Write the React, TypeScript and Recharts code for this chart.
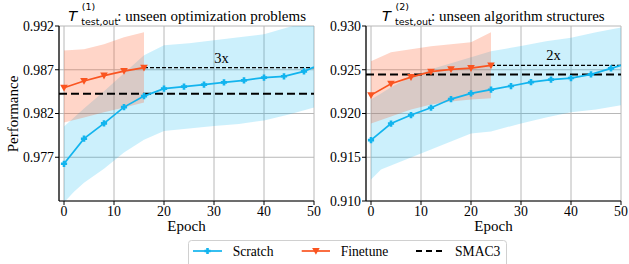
import React from 'react';
import { ComposedChart, Line, Area, XAxis, YAxis, CartesianGrid, ReferenceLine, ReferenceDot } from 'recharts';

// epochs where the curves are sampled
const scratchEpochs = [0, 4, 8, 12, 16, 20, 24, 28, 32, 36, 40, 44, 48, 50];

// left panel: unseen optimization problems
const scratchOpt = [0.97625, 0.97912, 0.98087, 0.98273, 0.98399, 0.98484, 0.98507, 0.9853, 0.98556, 0.98579, 0.9861, 0.98625, 0.98682, 0.98731];
const finetuneEpochsOpt = [0, 4, 8, 12, 16];
const finetuneOpt = [0.98495, 0.98571, 0.98633, 0.98685, 0.98724];
const smacOpt = 0.98427;
const scratchBandEpochsOpt = [0, 2, 4, 8, 12, 16, 20, 25, 30, 35, 40, 45, 50];
const scratchLoOpt = [0.97183, 0.97306, 0.97409, 0.9757, 0.97753, 0.97901, 0.97999, 0.9803, 0.98056, 0.98081, 0.98121, 0.9819, 0.9827];
const scratchHiOpt = [0.98052, 0.98155, 0.98258, 0.98453, 0.98659, 0.98865, 0.98979, 0.99002, 0.99036, 0.99071, 0.99105, 0.9919, 0.99254];
const finetuneLoOpt = [0.98098, 0.98155, 0.98213, 0.9827, 0.98327];
const finetuneHiOpt = [0.98919, 0.98933, 0.98991, 0.99071, 0.99128];

// right panel: unseen algorithm structures
const scratchAlg = [0.91696, 0.91885, 0.91982, 0.92066, 0.92165, 0.9223, 0.92272, 0.92314, 0.92359, 0.92387, 0.92405, 0.92447, 0.92516, 0.9255];
const finetuneEpochsAlg = [0, 4, 8, 12, 16, 20, 24];
const finetuneAlg = [0.9221, 0.92341, 0.92416, 0.92478, 0.92505, 0.92519, 0.9255];
const smacAlg = 0.92447;
const scratchBandEpochsAlg = [0, 2, 4, 8, 12, 16, 20, 24, 30, 35, 40, 45, 50];
const scratchLoAlg = [0.91246, 0.9136, 0.91406, 0.91498, 0.91589, 0.91681, 0.91772, 0.91795, 0.91887, 0.91955, 0.92013, 0.92047, 0.92093];
const scratchHiAlg = [0.92161, 0.9223, 0.92299, 0.92424, 0.92505, 0.92573, 0.92642, 0.92711, 0.92771, 0.92825, 0.92867, 0.92928, 0.92982];
const finetuneLoAlg = [0.91887, 0.91967, 0.92047, 0.92104, 0.92138, 0.92161, 0.92173];
const finetuneHiAlg = [0.92596, 0.92699, 0.92733, 0.92768, 0.92791, 0.92813, 0.92928];

const xTicks = [0, 10, 20, 30, 40, 50];
const yTicksOpt = [0.977, 0.982, 0.987, 0.992];
const yTicksAlg = [0.91, 0.915, 0.92, 0.925, 0.93];

const BLUE = '#12b4ee';
const RED = '#fa5420';
const SERIF = "'Liberation Serif', 'Times New Roman', serif";
const MATH = "'DejaVu Sans', sans-serif";

function buildRows(
  sEp: number[], s: number[], fEp: number[], f: number[],
  bEp: number[], bLo: number[], bHi: number[], fLo: number[], fHi: number[]
) {
  const map = new Map<number, any>();
  const row = (e: number) => {
    if (!map.has(e)) map.set(e, { epoch: e });
    return map.get(e);
  };
  sEp.forEach((e, i) => { row(e).scratch = s[i]; });
  fEp.forEach((e, i) => { row(e).finetune = f[i]; row(e).fBand = [fLo[i], fHi[i]]; });
  bEp.forEach((e, i) => { row(e).sBand = [bLo[i], bHi[i]]; });
  return Array.from(map.values()).sort((a, b) => a.epoch - b.epoch);
}

const optRows = buildRows(scratchEpochs, scratchOpt, finetuneEpochsOpt, finetuneOpt, scratchBandEpochsOpt, scratchLoOpt, scratchHiOpt, finetuneLoOpt, finetuneHiOpt);
const algRows = buildRows(scratchEpochs, scratchAlg, finetuneEpochsAlg, finetuneAlg, scratchBandEpochsAlg, scratchLoAlg, scratchHiAlg, finetuneLoAlg, finetuneHiAlg);

const PlusDot = (props: any) => {
  const { cx, cy, payload, index } = props;
  if (cx == null || cy == null || payload?.scratch == null || payload.epoch % 4 !== 0) return <g key={index} />;
  const a = 3.1, b = 1.3;
  const d = `M${cx - b},${cy - a}H${cx + b}V${cy - b}H${cx + a}V${cy + b}H${cx + b}V${cy + a}H${cx - b}V${cy + b}H${cx - a}V${cy - b}H${cx - b}Z`;
  return <path key={index} d={d} fill={BLUE} />;
};

const TriDot = (props: any) => {
  const { cx, cy, payload, index } = props;
  if (cx == null || cy == null || payload?.finetune == null) return <g key={index} />;
  const d = `M${cx - 3.8},${cy - 3}L${cx + 3.8},${cy - 3}L${cx},${cy + 3.8}Z`;
  return <path key={index} d={d} fill={RED} />;
};

const tickStyle = { fontFamily: SERIF, fontSize: 13.8, fill: '#000' };

function Panel({ rows, domain, yTicks, smac, gapStart, gapValue, gapLabel, labelEpoch, yWidth, width, marginLeft, marginRight }: any) {
  return (
    <ComposedChart
      width={width}
      height={264}
      data={rows}
      margin={{ top: 26, right: marginRight, bottom: 33, left: marginLeft }}
    >
      <CartesianGrid stroke="#b8b8b8" strokeWidth={1} />
      <XAxis
        dataKey="epoch"
        type="number"
        domain={[-1, 50]}
        ticks={xTicks}
        allowDataOverflow
        height={30}
        tickSize={4}
        tickMargin={1}
        tick={tickStyle}
        axisLine={{ stroke: '#000', strokeWidth: 1.2 }}
        tickLine={{ stroke: '#000' }}
      />
      <YAxis
        type="number"
        domain={domain}
        ticks={yTicks}
        allowDataOverflow
        width={yWidth}
        tickSize={4}
        tickMargin={1}
        tick={tickStyle}
        tickFormatter={(v: number) => v.toFixed(3)}
        axisLine={{ stroke: '#000', strokeWidth: 1.2 }}
        tickLine={{ stroke: '#000' }}
      />
      <Area dataKey="sBand" type="linear" stroke="none" fill="#00b4f0" fillOpacity={0.2} connectNulls isAnimationActive={false} activeDot={false} dot={false} />
      <Area dataKey="fBand" type="linear" stroke="none" fill="#ff5722" fillOpacity={0.25} connectNulls isAnimationActive={false} activeDot={false} dot={false} />
      <ReferenceLine y={smac} stroke="#000" strokeWidth={2} strokeDasharray="8 4" />
      <ReferenceLine segment={[{ x: gapStart, y: gapValue }, { x: 50, y: gapValue }]} stroke="#000" strokeWidth={1.1} strokeDasharray="4 2" />
      <ReferenceDot
        x={labelEpoch}
        y={gapValue}
        r={0}
        shape={(p: any) => (
          <text x={p.cx} y={p.cy - 5} textAnchor="middle" fontFamily={SERIF} fontSize={14.5} fill="#000">{gapLabel}</text>
        )}
      />
      <Line dataKey="scratch" type="linear" stroke={BLUE} strokeWidth={1.7} connectNulls dot={PlusDot} activeDot={false} isAnimationActive={false} />
      <Line dataKey="finetune" type="linear" stroke={RED} strokeWidth={1.7} connectNulls dot={TriDot} activeDot={false} isAnimationActive={false} />
    </ComposedChart>
  );
}

function Title({ x, sup, text }: { x: number; sup: string; text: string }) {
  return (
    <g>
      <text x={x} y={21} fontFamily={MATH} fontStyle="italic" fontSize={14.5} fill="#000">T</text>
      <text x={x + 13.5} y={9.5} fontFamily={MATH} fontSize={9.5} fill="#000">{sup}</text>
      <text x={x + 13} y={24.5} fontFamily={MATH} fontSize={9.5} fill="#000">test,out</text>
      <text x={x + 49} y={21} fontFamily={SERIF} fontSize={15} fill="#000">{': ' + text}</text>
    </g>
  );
}

export default function App() {
  return (
    <div style={{ position: 'absolute', left: 0, top: 0, width: 629, height: 264, background: '#fff', overflow: 'hidden' }}>
      <div style={{ position: 'absolute', left: 0, top: 0 }}>
        <Panel rows={optRows} domain={[0.972, 0.992]} yTicks={yTicksOpt} smac={smacOpt}
          gapStart={finetuneEpochsOpt[finetuneEpochsOpt.length - 1]} gapValue={finetuneOpt[finetuneOpt.length - 1]}
          gapLabel="3x" labelEpoch={31.5} yWidth={50} width={330} marginLeft={9} marginRight={16} />
      </div>
      <div style={{ position: 'absolute', left: 320, top: 0 }}>
        <Panel rows={algRows} domain={[0.91, 0.93]} yTicks={yTicksAlg} smac={smacAlg}
          gapStart={finetuneEpochsAlg[finetuneEpochsAlg.length - 1]} gapValue={finetuneAlg[finetuneAlg.length - 1]}
          gapLabel="2x" labelEpoch={36.5} yWidth={46} width={309} marginLeft={0} marginRight={8} />
      </div>
      <svg width={629} height={264} style={{ position: 'absolute', left: 0, top: 0, pointerEvents: 'none' }}>
        <Title x={68.3} sup="(1)" text="unseen optimization problems" />
        <Title x={382} sup="(2)" text="unseen algorithm structures" />
        <text x={13} y={114} transform="rotate(-90 13 114)" textAnchor="middle" dominantBaseline="central" fontFamily={SERIF} fontSize={15} fill="#000">Performance</text>
        <text x={186.5} y={231} textAnchor="middle" fontFamily={SERIF} fontSize={15} fill="#000">Epoch</text>
        <text x={493.5} y={231} textAnchor="middle" fontFamily={SERIF} fontSize={15} fill="#000">Epoch</text>
        <rect x={188.5} y={240.5} width={318} height={32} rx={3} fill="#fff" fillOpacity={0.85} stroke="#d0d0d0" />
        <line x1={193} y1={251} x2={222} y2={251} stroke={BLUE} strokeWidth={1.7} />
        <path d="M206.2,247.9H208.8V249.7H210.6V252.3H208.8V254.1H206.2V252.3H204.4V249.7H206.2Z" fill={BLUE} />
        <text x={232.7} y={255.5} fontFamily={SERIF} fontSize={13.6} fill="#000">Scratch</text>
        <line x1={301.7} y1={251} x2={330} y2={251} stroke={RED} strokeWidth={1.7} />
        <path d="M312.1,248L319.7,248L315.9,254.8Z" fill={RED} />
        <text x={340.7} y={255.5} fontFamily={SERIF} fontSize={13.6} fill="#000">Finetune</text>
        <line x1={416} y1={251} x2={444} y2={251} stroke="#000" strokeWidth={2} strokeDasharray="6 4" />
        <text x={455} y={255.5} fontFamily={SERIF} fontSize={13.6} fill="#000">SMAC3</text>
      </svg>
    </div>
  );
}
